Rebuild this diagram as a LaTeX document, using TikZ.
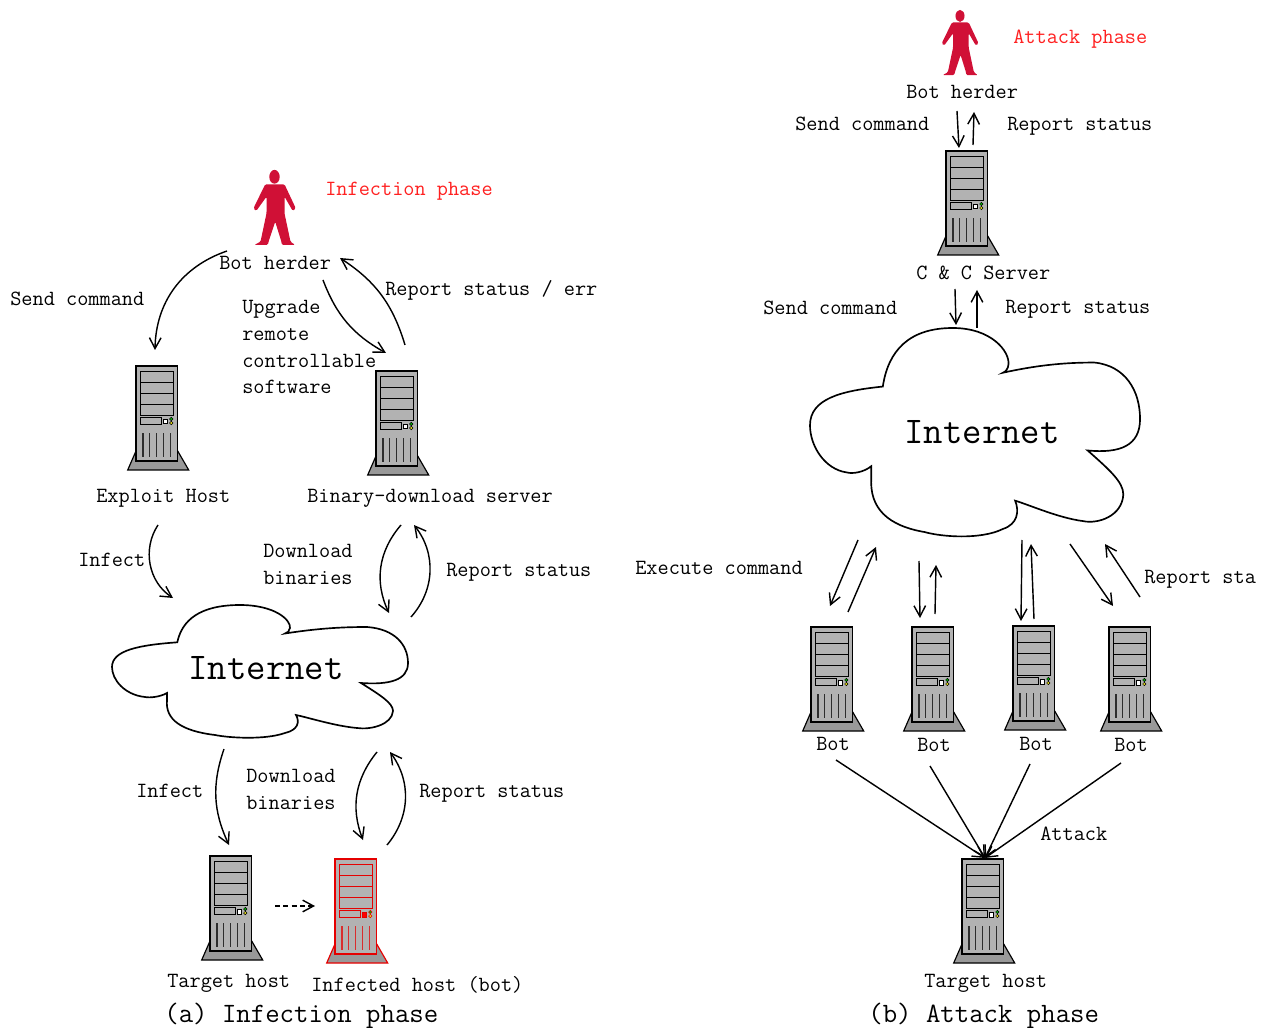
\documentclass[tikz,border=0pt]{standalone}
\usetikzlibrary{arrows.meta}
\definecolor{bodygray}{RGB}{178,178,178}
\definecolor{basegray}{RGB}{153,153,153}
\definecolor{herdercolor}{RGB}{208,16,54}
\definecolor{phasered}{RGB}{255,32,32}
\tikzset{
  arrow/.style = {-{Straight Barb[length=6.5pt, width=7pt]}, line width = .85pt},
  txt/.style = {font = \ttfamily\fontsize{13}{16}\selectfont, anchor = west, inner sep = 0pt, align = left, yshift = -.8pt},
  redtxt/.style = {txt, text = phasered},
  midtxt/.style = {txt, anchor = center},
  nettxt/.style = {font = \ttfamily\fontsize{22.6}{24}\selectfont, anchor = center, inner sep = 0pt},
  captiontxt/.style = {font = \ttfamily\fontsize{16.8}{20}\selectfont, anchor = west, inner sep = 0pt},
  pics/server/.style n args = {2}{code = {
    \draw[#1, fill = basegray, line width = .7pt] (-8.3, 104)--(52.7, 104)--(41.7, 85)--(0, 85)--cycle;
    \draw[#1, fill = bodygray, line width = .9pt] (0, 0) rectangle (41.7, 95);
    \draw[#1, line width = .8pt] (4.7, 5.7) rectangle (37.3, 49.7);
    \foreach \y in {16.7, 27.7, 38.7}
      \draw[#1, line width = .8pt] (4.7, \y)--(37.3, \y);
    \draw[#1, line width = .6pt] (4.7, 51.3) rectangle (25.3, 58.3);
    \draw[#1, fill = #2, line width = .6pt] (27.3, 53.5) rectangle (31.6, 58);
    \draw[#1, fill = green!70!black, line width = .3pt] (35.3, 53) circle (1.7);
    \draw[#1, fill = yellow!90!black, line width = .3pt] (35.3, 57) circle (1.7);
    \foreach \x in {7, 13.8, 20.8, 27.8, 34.8}
      \draw[#1!75!bodygray, line width = .7pt] (\x, 67.3)--(\x, 90.7);
  }},
  pics/herder/.style = {code = {
    \fill[herdercolor] (0, 6.8) ellipse (5.2 and 6.9);
    \fill[herdercolor, rounded corners = .8] (-9.3, 14.3)--(10, 14.3)--(21.3, 38.3)--(18.3, 41)--(10, 26.7)--(10, 43.3)
      --(16, 71.7)--(20.7, 75)--(7.3, 75)--(7, 72)--(.7, 51.7)--(-6, 72)--(-6.7, 75)--(-20.3, 75)--(-14, 71.7)
      --(-8, 43.3)--(-8, 26.7)--(-18.3, 41)--(-21, 38.3)--cycle;
  }},
  pics/cloud/.style = {code = {
    \draw[line width = 1pt, fill = white] (65.3, 37.3)
      .. controls (70, 15) and (88, 0) .. (128, 0)
      .. controls (163, 0) and (179, 15) .. (178, 23)
      .. controls (178, 26) and (175, 28) .. (173, 28.5)
      .. controls (208, 23) and (233, 22) .. (255, 22)
      .. controls (283, 24) and (296, 40) .. (296, 58)
      .. controls (296, 75) and (278, 80) .. (249, 78)
      .. controls (268, 90) and (281, 98) .. (281, 106)
      .. controls (280, 120) and (258, 125) .. (245, 123)
      .. controls (223, 121) and (198, 113) .. (184, 110)
      .. controls (188, 117) and (186, 125) .. (173, 128)
      .. controls (153, 135) and (118, 133) .. (103, 130)
      .. controls (70, 126) and (53, 115) .. (55, 95)
      --(55, 88)
      .. controls (48, 92) and (38, 93) .. (33, 92)
      .. controls (13, 90) and (0, 75) .. (0, 62)
      .. controls (0, 45) and (28, 40) .. (65.3, 37.3)--cycle;
  }},
}
\begin{document}
\begin{tikzpicture}[x = .6pt, y = -.6pt]
  \useasboundingbox (0, 0) rectangle (1268, 1028);

  \pic (herdera) at (274.5, 170) {herder};
  \pic (exploit) at (136, 366) {server = {black}{white}};
  \pic (binary) at (376, 371) {server = {black}{white}};
  \pic (cloud) at (112, 605) {cloud};
  \pic (targeta) at (210, 856) {server = {black}{white}};
  \pic (infected) at (335, 859) {server = {red!90!black}{red}};

  \pic[scale = .87] (herderb) at (960, 10) {herder};
  \pic (cc) at (946, 151) {server = {black}{white}};
  \pic[xscale = 1.115, yscale = 1.57] (cloudb) at (810, 328) {cloud};
  \pic (bota) at (811, 627) {server = {black}{white}};
  \pic (botb) at (912, 627) {server = {black}{white}};
  \pic (botc) at (1013, 626) {server = {black}{white}};
  \pic (botd) at (1109, 627) {server = {black}{white}};
  \pic (targetb) at (962, 859) {server = {black}{white}};

  \node[redtxt] (infphase) at (325, 190) {Infection phase};
  \node[txt] (herderlabel) at (219, 262) {Bot herder};
  \node[txt] (sendcmd) at (10, 298) {Send command};
  \node[txt] (upgrade) at (242, 346) {Upgrade\\remote\\controllable\\software};
  \node[txt] (reporterr) at (385, 289) {Report status / err};
  \node[txt] (exploitlabel) at (96, 497) {Exploit Host};
  \node[txt] (binarylabel) at (307, 497) {Binary-download server};
  \node[txt] (infect) at (78, 559) {Infect};
  \node[txt] (download) at (263, 563) {Download\\binaries};
  \node[txt] (report) at (446, 571) {Report status};
  \node[nettxt] (net) at (266, 668) {Internet};
  \node[txt] (infectlow) at (136, 790) {Infect};
  \node[txt] (downloadlow) at (246, 788) {Download\\binaries};
  \node[txt] (reportlow) at (419, 792) {Report status};
  \node[txt] (targetalabel) at (167, 982) {Target host};
  \node[txt] (infectedlabel) at (311, 984) {Infected host (bot)};
  \node[captiontxt] (captiona) at (164, 1016) {(a) Infection phase};

  \node[redtxt] (attphase) at (1013, 38) {Attack phase};
  \node[txt] (herderblabel) at (906, 91) {Bot herder};
  \node[txt] (sendb) at (795, 123) {Send command};
  \node[txt] (reportb) at (1007, 125) {Report status};
  \node[txt] (cclabel) at (916, 272) {C \& C Server};
  \node[txt] (sendnet) at (763, 307) {Send command};
  \node[txt] (reportnet) at (1005, 308) {Report status};
  \node[nettxt] (netb) at (982, 432) {Internet};
  \node[txt] (execute) at (635, 567) {Execute command};
  \node[txt] (reportbot) at (1144, 578) {Report sta};
  \node[midtxt] (botalabel) at (833, 743) {Bot};
  \node[midtxt] (botblabel) at (934, 744) {Bot};
  \node[midtxt] (botclabel) at (1036, 743) {Bot};
  \node[midtxt] (botdlabel) at (1131, 744) {Bot};
  \node[txt] (attack) at (1040, 832) {Attack};
  \node[txt] (targetblabel) at (924, 982) {Target host};
  \node[captiontxt] (captionb) at (868, 1016) {(b) Attack phase};

  \coordinate (hit) at (985, 858);
  \foreach \name/\x/\y in {a1/227/251, a2/155/350, b1/405/345, b2/340/258, c1/323/280, c2/386/353,
    d1/158/525, d2/173/598, e1/401/525, e2/389/613, f1/411/617, f2/414/525,
    g1/224/749, g2/229/845, h1/377/752, h2/363/840, i1/387/845, i2/390/752, j1/275/906, j2/315/906,
    k1/957/111, k2/959/148, l1/973/145, l2/974/112, m1/955/289, m2/956/325, n1/977/328, n2/977/290,
    o1/858/540, o2/830/606, p1/848/612, p2/876/547, q1/919/561, q2/920/618, r1/935/614, r2/936/565,
    s1/1022/540, s2/1021/621, t1/1034/619, t2/1031/544, u1/1070/544, u2/1113/606, v1/1140/597, v2/1105/544,
    w1/836/760, w2/930/766, w3/1030/764, w4/1121/763}
    \coordinate (\name) at (\x, \y);

  \foreach \from/\to/\angle in {a1/a2/35, b1/b2/20, c1/c2/20, d1/d2/45, e1/e2/33, f1/f2/40, g1/g2/22, h1/h2/30, i1/i2/38}
    \draw[arrow] (\from) to[bend right = \angle] (\to);
  \draw[arrow, dashed, dash pattern = on 3pt off 2pt] (j1)--(j2);
  \foreach \from/\to in {k1/k2, l1/l2, m1/m2, n1/n2, o1/o2, p1/p2, q1/q2, r1/r2, s1/s2, t1/t2, u1/u2, v1/v2, w1/hit, w2/hit, w3/hit, w4/hit}
    \draw[arrow] (\from)--(\to);
\end{tikzpicture}
\end{document}
